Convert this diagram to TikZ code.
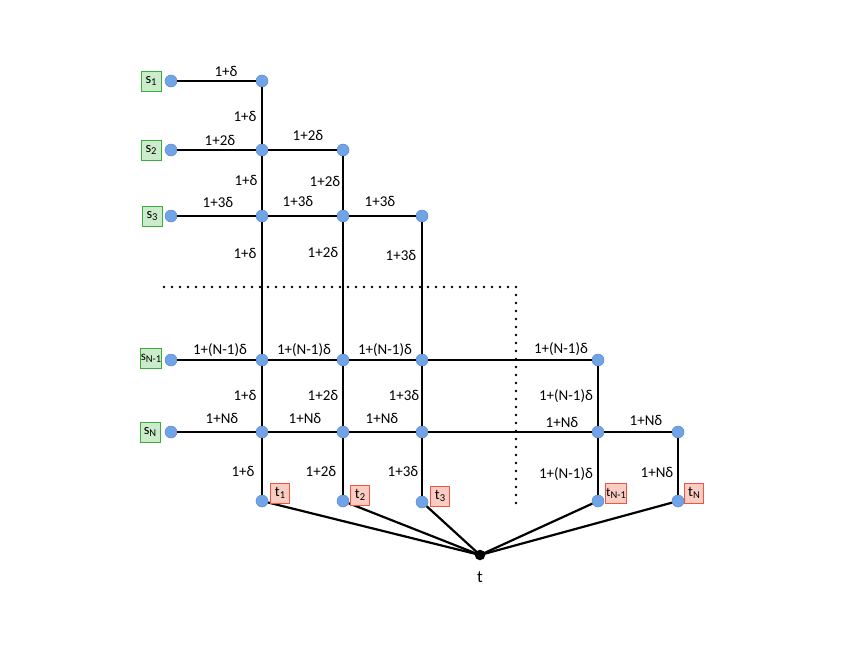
\documentclass[tikz,border=0pt]{standalone}
\usepackage{fontspec}
\setmainfont{Carlito}
\definecolor{vblue}{RGB}{112,164,230}
\definecolor{vblueD}{RGB}{88,138,208}
\definecolor{sfill}{RGB}{202,236,202}
\definecolor{sdraw}{RGB}{60,172,60}
\definecolor{tfill}{RGB}{250,204,194}
\definecolor{tdraw}{RGB}{240,84,64}
\newcommand{\sbs}[1]{\raisebox{-0.3ex}{\fontsize{10.5}{12}\selectfont #1}}
\tikzset{
  vtx/.style={circle, fill=vblue, draw=vblueD, line width=0.5pt, minimum size=12pt, inner sep=0pt},
  sink/.style={circle, fill=black, minimum size=10.5pt, inner sep=0pt},
  sbox/.style={draw=sdraw, fill=sfill, line width=0.9pt, minimum width=20pt, minimum height=20pt, inner sep=1pt, font=\fontsize{14.5}{16}\selectfont},
  tbox/.style={draw=tdraw, fill=tfill, line width=0.9pt, minimum width=19pt, minimum height=20pt, inner sep=1pt, font=\fontsize{14.5}{16}\selectfont},
  lbl/.style={inner sep=0pt, font=\fontsize{15}{17}\selectfont, text height=10pt, text depth=2pt},
  edge/.style={line width=2.2pt, black},
  dotline/.style={line width=2.6pt, line cap=round, dash pattern=on 0pt off 8pt}
}
\begin{document}
\begin{tikzpicture}[x=1pt,y=-1pt]
\useasboundingbox (0,0) rectangle (846,654);
% dotted separator
\coordinate (dA) at (164,287);
\coordinate (dB) at (516,287);
\coordinate (dC) at (516,503);
\draw[dotline] (dA) -- (dB) -- (dC);
% sources
\node[vtx] (s1) at (171,81) {};
\node[vtx] (s2) at (171,150) {};
\node[vtx] (s3) at (171,216) {};
\node[vtx] (sM) at (171,360) {};
\node[vtx] (sN) at (171,432) {};
% grid
\node[vtx] (a1) at (262,81) {};
\node[vtx] (a2) at (262,150) {};
\node[vtx] (b2) at (343,150) {};
\node[vtx] (a3) at (262,216) {};
\node[vtx] (b3) at (343,216) {};
\node[vtx] (c3) at (422,216) {};
\node[vtx] (aM) at (262,360) {};
\node[vtx] (bM) at (343,360) {};
\node[vtx] (cM) at (422,360) {};
\node[vtx] (mM) at (598,360) {};
\node[vtx] (aN) at (262,432) {};
\node[vtx] (bN) at (343,432) {};
\node[vtx] (cN) at (422,432) {};
\node[vtx] (mN) at (598,432) {};
\node[vtx] (nN) at (678,432) {};
% sinks
\node[vtx] (t1) at (262,501) {};
\node[vtx] (t2) at (343,501) {};
\node[vtx] (t3) at (422,502) {};
\node[vtx] (tM) at (598,501) {};
\node[vtx] (tN) at (678,501) {};
\node[sink] (t) at (480,555) {};
% rows
\draw[edge] (s1) -- (a1);
\draw[edge] (s2) -- (a2) -- (b2);
\draw[edge] (s3) -- (a3) -- (b3) -- (c3);
\draw[edge] (sM) -- (aM) -- (bM) -- (cM) -- (mM);
\draw[edge] (sN) -- (aN) -- (bN) -- (cN) -- (mN) -- (nN);
% columns
\draw[edge] (a1) -- (a2) -- (a3) -- (aM) -- (aN) -- (t1);
\draw[edge] (b2) -- (b3) -- (bM) -- (bN) -- (t2);
\draw[edge] (c3) -- (cM) -- (cN) -- (t3);
\draw[edge] (mM) -- (mN) -- (tM);
\draw[edge] (nN) -- (tN);
% to t
\draw[edge] (t1) -- (t.center);
\draw[edge] (t2) -- (t.center);
\draw[edge] (t3) -- (t.center);
\draw[edge] (tM) -- (t.center);
\draw[edge] (tN) -- (t.center);
% source labels
\node[sbox] (S1) at (151,81) {s\sbs{1}};
\node[sbox] (S2) at (151,150) {s\sbs{2}};
\node[sbox] (S3) at (152,216) {s\sbs{3}};
\node[sbox, inner sep=0.3pt, font=\fontsize{13}{14}\selectfont] (SM) at (151,358) {s\sbs{N-1}};
\node[sbox] (SN) at (150,432) {s\sbs{N}};
% sink labels
\node[tbox] (T1) at (280,493) {t\sbs{1}};
\node[tbox] (T2) at (360,495) {t\sbs{2}};
\node[tbox] (T3) at (440,496) {t\sbs{3}};
\node[tbox, inner sep=0.3pt, font=\fontsize{13}{14}\selectfont] (TM) at (616,493) {t\sbs{N-1}};
\node[tbox] (TN) at (694,493) {t\sbs{N}};
\node[inner sep=0pt, font=\fontsize{17}{19}\selectfont] (tl) at (480,577) {t};
% edge weights: rows
\node[lbl] (w1) at (226,72) {1+δ};
\node[lbl] (w2a) at (220,141) {1+2δ};
\node[lbl] (w2b) at (308,136) {1+2δ};
\node[lbl] (w3a) at (218,203) {1+3δ};
\node[lbl] (w3b) at (298,202) {1+3δ};
\node[lbl] (w3c) at (380,202) {1+3δ};
\node[lbl] (wMa) at (220,350) {1+(N-1)δ};
\node[lbl] (wMb) at (304,350) {1+(N-1)δ};
\node[lbl] (wMc) at (385,350) {1+(N-1)δ};
\node[lbl] (wMd) at (561,349) {1+(N-1)δ};
\node[lbl] (wNa) at (222,419) {1+Nδ};
\node[lbl] (wNb) at (305,419) {1+Nδ};
\node[lbl] (wNc) at (382,419) {1+Nδ};
\node[lbl] (wNd) at (562,423) {1+Nδ};
\node[lbl] (wNe) at (646,421) {1+Nδ};
% edge weights: columns
\node[lbl] (v12) at (245,117) {1+δ};
\node[lbl] (v23a) at (246,181) {1+δ};
\node[lbl] (v23b) at (325,182) {1+2δ};
\node[lbl] (v3a) at (245,254) {1+δ};
\node[lbl] (v3b) at (323,253) {1+2δ};
\node[lbl] (v3c) at (401,256) {1+3δ};
\node[lbl] (vMa) at (245,396) {1+δ};
\node[lbl] (vMb) at (323,396) {1+2δ};
\node[lbl] (vMc) at (404,396) {1+3δ};
\node[lbl] (vMd) at (566,396) {1+(N-1)δ};
\node[lbl] (vNa) at (243,472) {1+δ};
\node[lbl] (vNb) at (321,472) {1+2δ};
\node[lbl] (vNc) at (403,472) {1+3δ};
\node[lbl] (vNd) at (566,474) {1+(N-1)δ};
\node[lbl] (vNe) at (657,473) {1+Nδ};
\end{tikzpicture}
\end{document}
